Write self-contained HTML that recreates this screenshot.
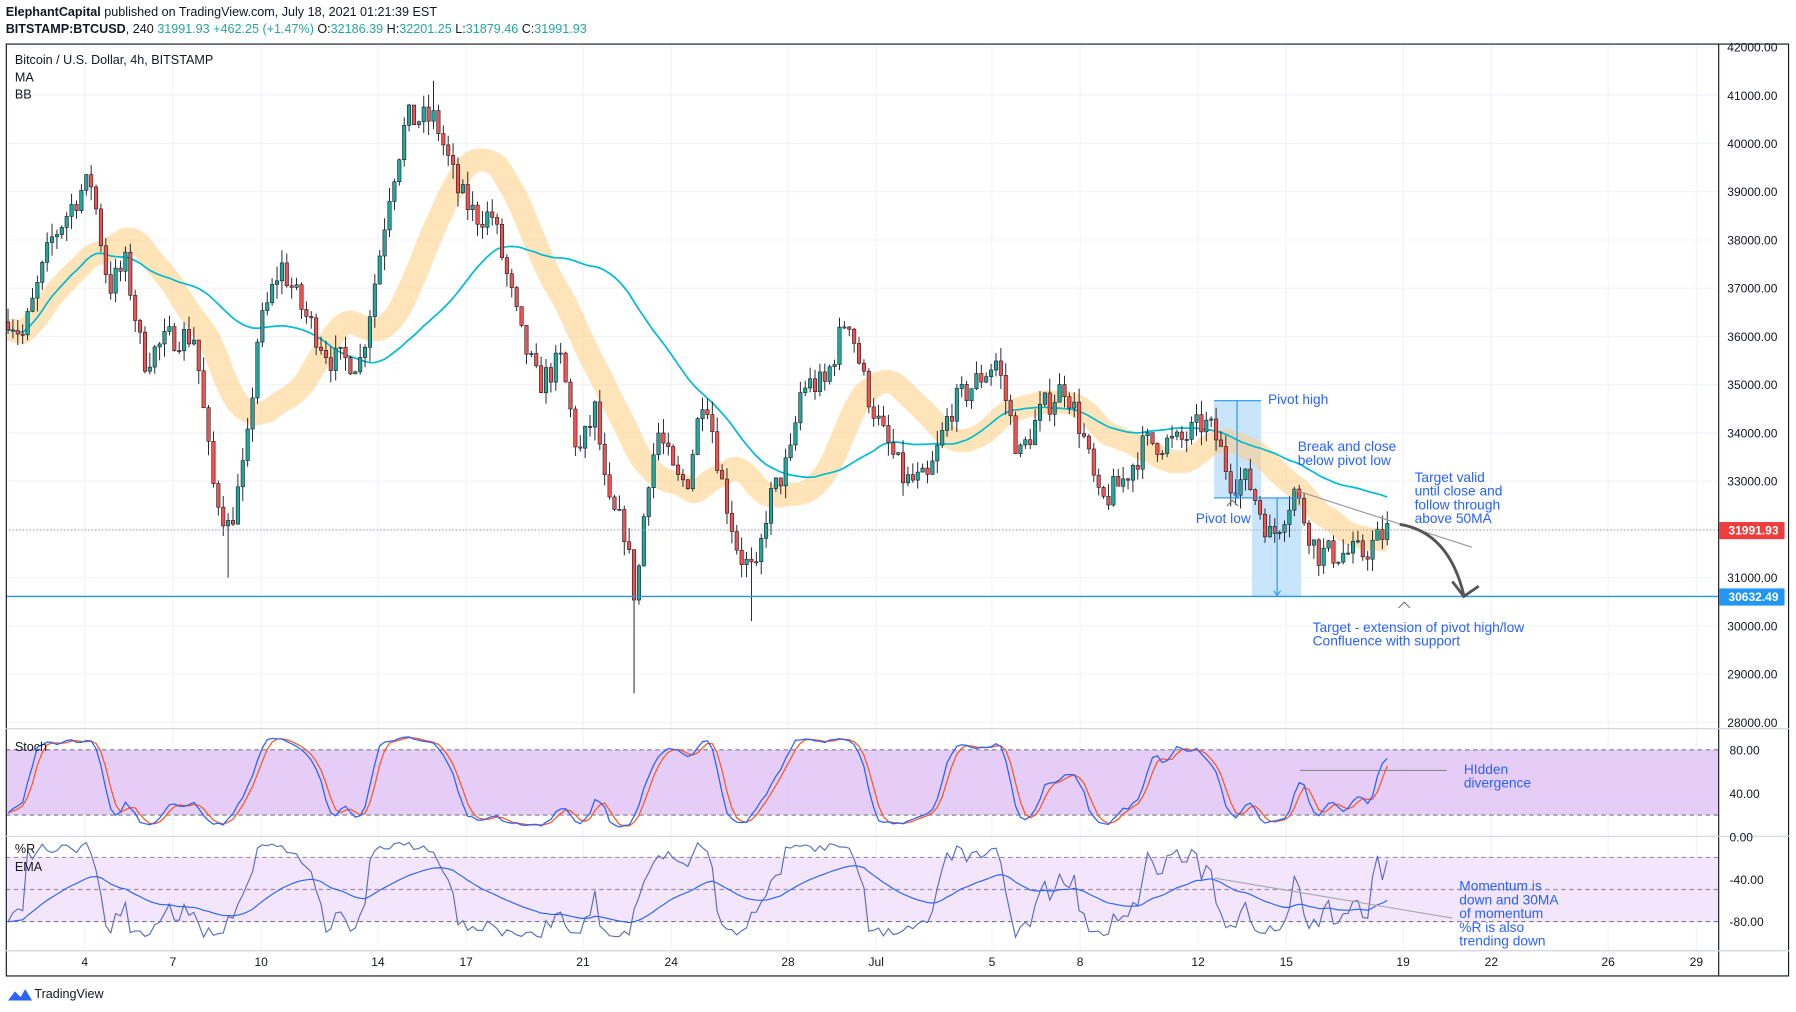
<!DOCTYPE html>
<html><head><meta charset="utf-8"><style>
html,body{margin:0;padding:0;background:#fff;}
svg{display:block;font-family:"Liberation Sans",sans-serif;}
</style></head><body>
<svg id="s" width="1796" height="1012" viewBox="0 0 1568 884" preserveAspectRatio="none" xmlns="http://www.w3.org/2000/svg">
<rect width="1568" height="884" fill="#fff"/>
<text x="5" y="14" font-size="11" fill="#131722"><tspan font-weight="bold">ElephantCapital</tspan> published on TradingView.com, July 18, 2021 01:21:39 EST</text>
<text x="5" y="29" font-size="11" fill="#131722"><tspan font-weight="bold">BITSTAMP:BTCUSD</tspan>, 240 <tspan fill="#26a69a">31991.93 +462.25 (+1.47%)</tspan> O:<tspan fill="#26a69a">32186.39</tspan> H:<tspan fill="#26a69a">32201.25</tspan> L:<tspan fill="#26a69a">31879.46</tspan> C:<tspan fill="#26a69a">31991.93</tspan></text>
<g id="grid" stroke="#f0f3fa" stroke-width="1"></g>
<rect x="5" y="655" width="1495" height="57" fill="#e1c4f7" opacity="0.85"/>
<line x1="5" y1="655" x2="1500" y2="655" stroke="#787b86" stroke-dasharray="4,3"/>
<line x1="5" y1="712" x2="1500" y2="712" stroke="#787b86" stroke-dasharray="4,3"/>
<rect x="5" y="749" width="1495" height="56" fill="#f3e5fc"/>
<line x1="5" y1="749" x2="1500" y2="749" stroke="#9e8bb0" stroke-dasharray="4,3"/>
<line x1="5" y1="777" x2="1500" y2="777" stroke="#9e8bb0" stroke-dasharray="4,3"/>
<line x1="5" y1="805" x2="1500" y2="805" stroke="#787b86" stroke-dasharray="4,3"/>
<rect x="1060" y="350" width="41" height="85" fill="#bbdefb" opacity="0.8"/>
<rect x="1093" y="435" width="43" height="86" fill="#bbdefb" opacity="0.8"/>
<g id="plot"></g>
<line x1="1060" y1="350" x2="1101" y2="350" stroke="#2196f3"/>
<line x1="1060" y1="435" x2="1136" y2="435" stroke="#2196f3"/>
<line x1="1080" y1="350" x2="1080" y2="434" stroke="#2196f3"/>
<line x1="1115" y1="435" x2="1115" y2="520" stroke="#2196f3"/>
<path d="M1112 516 L1115 520 L1118 516" fill="none" stroke="#2196f3"/>
<path d="M1077 431 L1080 435 L1083 431" fill="none" stroke="#2196f3"/>
<line x1="5" y1="463" x2="1500" y2="463" stroke="#999" stroke-dasharray="1,2"/>
<line x1="5" y1="521" x2="1500" y2="521" stroke="#2196f3" stroke-width="1.2"/>
<line x1="1130" y1="428" x2="1285" y2="478" stroke="#999"/>
<path d="M1222 458 Q1265 465 1278 520" fill="none" stroke="#555" stroke-width="2.5"/>
<path d="M1268 508 L1278 521 L1291 512" fill="none" stroke="#555" stroke-width="2.5"/>
<path d="M1071 442 L1076 437 L1081 442" fill="none" stroke="#777"/>
<path d="M1221 531 L1226 526 L1231 531" fill="none" stroke="#777"/>
<line x1="1135" y1="673" x2="1263" y2="673" stroke="#888"/>
<line x1="1060" y1="767" x2="1268" y2="802" stroke="#aaa"/>
<g font-size="12" fill="#2962ff">
<text x="1107" y="353">Pivot high</text>
<text x="1133" y="394">Break and close</text>
<text x="1133" y="406">below pivot low</text>
<text x="1044" y="457">Pivot low</text>
<text x="1235" y="421">Target valid</text>
<text x="1235" y="433">until close and</text>
<text x="1235" y="445">follow through</text>
<text x="1235" y="457">above 50MA</text>
<text x="1146" y="552">Target - extension of pivot high/low</text>
<text x="1146" y="564">Confluence with support</text>
<text x="1278" y="676">HIdden</text>
<text x="1278" y="688">divergence</text>
<text x="1274" y="778">Momentum is</text>
<text x="1274" y="790">down and 30MA</text>
<text x="1274" y="802">of momentum</text>
<text x="1274" y="814">%R is also</text>
<text x="1274" y="826">trending down</text>
</g>
<rect x="0" y="0" width="5" height="884" fill="#fff"/>
<rect x="5.5" y="38.5" width="1556" height="814" fill="none" stroke="#131722"/>
<line x1="1500.5" y1="38" x2="1500.5" y2="852" stroke="#131722"/>
<line x1="5" y1="636.5" x2="1562" y2="636.5" stroke="#d1d4dc"/>
<line x1="5" y1="730.5" x2="1562" y2="730.5" stroke="#d1d4dc"/>
<line x1="5" y1="830.5" x2="1562" y2="830.5" stroke="#d1d4dc"/>
<g id="axis" font-size="10.5" fill="#131722"></g>
<rect x="1501" y="456" width="57" height="15" fill="#ef3d3d"/>
<text x="1509" y="467" font-size="10.5" fill="#fff" font-weight="bold">31991.93</text>
<rect x="1501" y="514" width="57" height="15" fill="#2196f3"/>
<text x="1509" y="525" font-size="10.5" fill="#fff" font-weight="bold">30632.49</text>
<g font-size="11" fill="#131722">
<text x="13" y="56">Bitcoin / U.S. Dollar, 4h, BITSTAMP</text>
<text x="13" y="71">MA</text>
<text x="13" y="86">BB</text>
<text x="13" y="656">Stoch</text>
<text x="13" y="745">%R</text>
<text x="13" y="761">EMA</text>
</g>
<path d="M7 874 L13 866 L18 871 L22 864 L28 874 Z" fill="#2962ff"/>
<text x="30" y="872" font-size="11" fill="#131722">TradingView</text>
</svg>
<script>
var NS="http://www.w3.org/2000/svg";
function el(p,t,a){var e=document.createElementNS(NS,t);for(var k in a)e.setAttribute(k,a[k]);p.appendChild(e);return e;}
var plot=document.getElementById('plot'),grid=document.getElementById('grid'),axis=document.getElementById('axis');
function Y(p){return 41+(42000-p)*0.04214;}
for(var p=28000;p<=42000;p+=1000){var y=Y(p);el(grid,'line',{x1:5,y1:y,x2:1500,y2:y});var t=el(axis,'text',{x:1508,y:y+4});t.textContent=p+'.00';}
var dates=[[74,'4'],[151,'7'],[228,'10'],[330,'14'],[407,'17'],[509,'21'],[586,'24'],[688,'28'],[765,'Jul'],[866,'5'],[943,'8'],[1046,'12'],[1123,'15'],[1225,'19'],[1302,'22'],[1404,'26'],[1481,'29']];
dates.forEach(function(d){el(grid,'line',{x1:d[0],y1:38,x2:d[0],y2:830});var t=el(axis,'text',{x:d[0],y:844,'text-anchor':'middle'});t.textContent=d[1];});
[[655,'80.00'],[693,'40.00'],[731,'0.00'],[768,'-40.00'],[805,'-80.00']].forEach(function(d){var t=el(axis,'text',{x:1510,y:d[0]+4});t.textContent=d[1];});
var K=[[5,36500],[20,36000],[45,38000],[70,39000],[80,39200],[95,37000],[110,37500],[125,35500],[150,36000],[170,36000],[185,33000],[200,32000],[215,33500],[225,36000],[245,37500],[265,36500],[290,35500],[315,35500],[330,37500],[340,39000],[355,40500],[380,40500],[400,39000],[415,38500],[430,38500],[440,37500],[455,36000],[470,35000],[490,35500],[505,33500],[520,34500],[530,32500],[545,32000],[555,30500],[565,33000],[575,34000],[590,33000],[600,33000],[615,35000],[630,33000],[645,31500],[660,31000],[670,32500],[690,33500],[700,35000],[720,35000],[740,36500],[755,35000],[770,34000],[790,33000],[810,33000],[830,34500],[850,35000],[870,35500],[880,34500],[890,33500],[910,34500],[930,35000],[945,34000],[960,32500],[980,33000],[1000,33800],[1030,33800],[1050,34200],[1060,34000],[1075,33000],[1090,33000],[1110,31800],[1130,32800],[1150,31500],[1170,31500],[1190,31500],[1212,32000]];
function interp(x){for(var i=1;i<K.length;i++){if(x<=K[i][0]){var a=K[i-1],b=K[i];return a[1]+(b[1]-a[1])*(x-a[0])/(b[0]-a[0]);}}return K[K.length-1][1];}
var seed=7;function r(){seed=(seed*16807)%2147483647;return seed/2147483647;}
var xs=[],O=[],H=[],L=[],C=[];var prev=36300;
for(var x=7;x<=1212;x+=4.27){var c=interp(x)+(r()-0.5)*600;var o=prev;var h=Math.max(o,c)+r()*300,l=Math.min(o,c)-r()*300;
if(Math.abs(x-555)<2.2)l=28600;if(Math.abs(x-200)<2.2)l=31000;if(Math.abs(x-380)<2.2)h=41300;if(Math.abs(x-655)<2.2)l=30100;
xs.push(x);O.push(o);C.push(c);H.push(h);L.push(l);prev=c;}
function sma(a,n){return a.map(function(v,i){var s=0,k=0;for(var j=Math.max(0,i-n+1);j<=i;j++){s+=a[j];k++;}return s/k;});}
var bb=sma(C,20),ma=sma(C,50);
function path(arr,f){var d='';for(var i=0;i<arr.length;i++){d+=(d?'L':'M')+xs[i].toFixed(1)+' '+f(arr[i]).toFixed(1);}return d;}
el(plot,'path',{d:path(bb,Y),fill:'none',stroke:'#ffcc80',"stroke-width":20,opacity:0.55,"stroke-linejoin":'round'});
el(plot,'path',{d:path(ma,Y),fill:'none',stroke:'#00bcd4',"stroke-width":1.5});
for(var i=0;i<xs.length;i++){var up=C[i]>=O[i],col=up?'#26a69a':'#ef5350';var x=xs[i];
el(plot,'line',{x1:x,y1:Y(H[i]),x2:x,y2:Y(L[i]),stroke:'#131722',"stroke-width":0.8});
var t=Y(Math.max(O[i],C[i])),b=Y(Math.min(O[i],C[i]));el(plot,'rect',{x:x-1.5,y:t,width:3,height:Math.max(1,b-t),fill:col,stroke:'#131722',"stroke-width":0.5});}
var k=[],wr=[];for(var i=0;i<xs.length;i++){var hh=-1e9,ll=1e9;for(var j=Math.max(0,i-13);j<=i;j++){hh=Math.max(hh,H[j]);ll=Math.min(ll,L[j]);}
k.push((C[i]-ll)/(hh-ll||1)*100);wr.push((C[i]-hh)/(hh-ll||1)*100);}
var ks=sma(k,3),ds=sma(ks,3);
function SY(v){return 731-(8+v*0.85)*0.95;}function RY(v){return 731-(v*0.9-5)*0.925;}
el(plot,'path',{d:path(ds,SY),fill:'none',stroke:'#ff5722',"stroke-width":1.1});
el(plot,'path',{d:path(ks,SY),fill:'none',stroke:'#2962ff',"stroke-width":1.1});
var em=[],a=2/31,e=wr[0];wr.forEach(function(v){e=e+a*(v-e);em.push(e);});
el(plot,'path',{d:path(wr,RY),fill:'none',stroke:'#5c6bc0',"stroke-width":1});
el(plot,'path',{d:path(em,RY),fill:'none',stroke:'#2962ff',"stroke-width":1});
</script>
</body></html>
